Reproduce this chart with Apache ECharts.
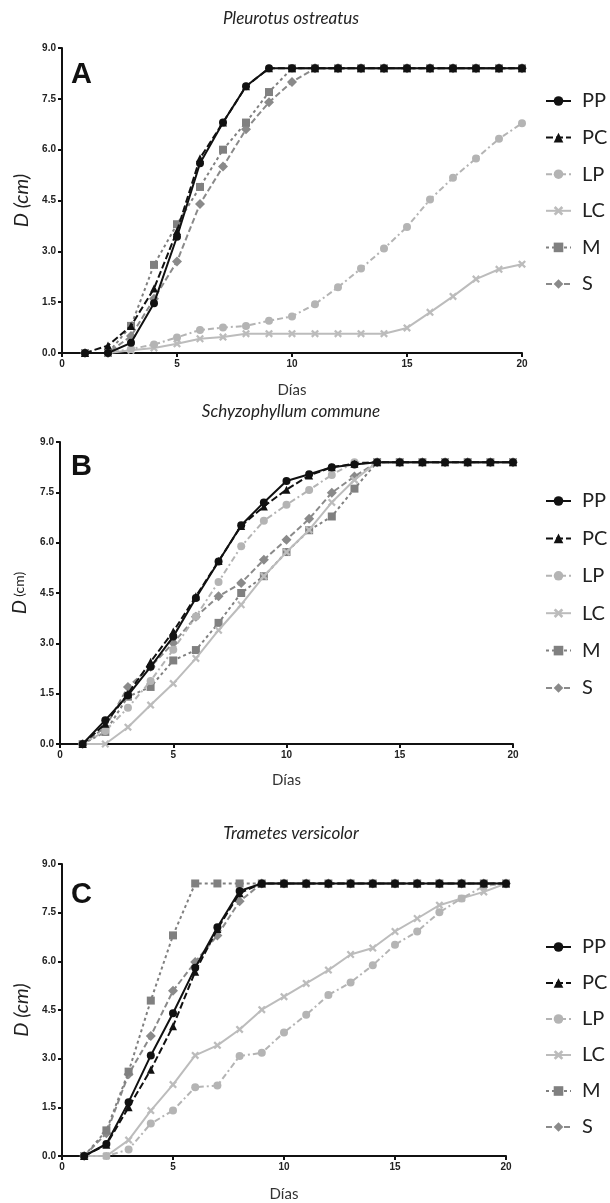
<!DOCTYPE html>
<html>
<head>
<meta charset="utf-8">
<script src="https://cdn.jsdelivr.net/npm/echarts@6/dist/echarts.min.js"></script>
<style>
html,body{margin:0;padding:0;background:#fff;}
#chart{width:610px;height:1203px;}
</style>
</head>
<body>
<div id="chart"></div>
<script>
// ---- data ----
const days = [1,2,3,4,5,6,7,8,9,10,11,12,13,14,15,16,17,18,19,20];
const seriesNames = ['PP','PC','LP','LC','M','S'];
const panelTitles = ['Pleurotus ostreatus','Schyzophyllum commune','Trametes versicolor'];
const panelLetters = ['A','B','C'];
const xTicks = [0,5,10,15,20];
const yTicks = [0,1.5,3.0,4.5,6.0,7.5,9.0];

// Panel A – Pleurotus ostreatus
const A_PP = [0,0,0.3,1.47,3.43,5.6,6.8,7.87,8.4,8.4,8.4,8.4,8.4,8.4,8.4,8.4,8.4,8.4,8.4,8.4];
const A_PC = [0,0.22,0.8,1.9,3.6,5.75,6.8,7.87,8.4,8.4,8.4,8.4,8.4,8.4,8.4,8.4,8.4,8.4,8.4,8.4];
const A_LP = [0,0,0.12,0.25,0.46,0.68,0.75,0.8,0.95,1.08,1.44,1.94,2.49,3.08,3.72,4.53,5.17,5.74,6.32,6.78];
const A_LC = [0,0,0.08,0.15,0.27,0.42,0.47,0.57,0.57,0.57,0.57,0.57,0.57,0.57,0.74,1.2,1.67,2.18,2.47,2.62];
const A_M  = [0,0,0.8,2.6,3.8,4.9,6.0,6.8,7.7,8.4,8.4,8.4,8.4,8.4,8.4,8.4,8.4,8.4,8.4,8.4];
const A_S  = [0,0,0.5,1.6,2.7,4.4,5.5,6.6,7.4,8.0,8.4,8.4,8.4,8.4,8.4,8.4,8.4,8.4,8.4,8.4];

// Panel B – Schyzophyllum commune
const B_PP = [0,0.71,1.45,2.3,3.2,4.35,5.44,6.52,7.2,7.84,8.04,8.25,8.33,8.4,8.4,8.4,8.4,8.4,8.4,8.4];
const B_PC = [0,0.6,1.5,2.45,3.35,4.4,5.45,6.5,7.08,7.58,8.0,8.25,8.35,8.4,8.4,8.4,8.4,8.4,8.4,8.4];
const B_LP = [0,0.39,1.08,1.88,2.81,3.8,4.83,5.89,6.65,7.13,7.57,8.02,8.4,8.4,8.4,8.4,8.4,8.4,8.4,8.4];
const B_LC = [0,0,0.5,1.16,1.8,2.55,3.39,4.15,5.0,5.72,6.38,7.2,7.87,8.4,8.4,8.4,8.4,8.4,8.4,8.4];
const B_M  = [0,0.36,1.41,1.7,2.49,2.8,3.61,4.5,5.0,5.72,6.37,6.78,7.61,8.4,8.4,8.4,8.4,8.4,8.4,8.4];
const B_S  = [0,0.5,1.7,2.3,3.01,3.79,4.4,4.8,5.49,6.09,6.71,7.49,7.97,8.4,8.4,8.4,8.4,8.4,8.4,8.4];

// Panel C – Trametes versicolor
const C_PP = [0,0.37,1.66,3.1,4.4,5.8,7.05,8.17,8.4,8.4,8.4,8.4,8.4,8.4,8.4,8.4,8.4,8.4,8.4,8.4];
const C_PC = [0,0.35,1.5,2.66,4.0,5.68,7.0,8.1,8.4,8.4,8.4,8.4,8.4,8.4,8.4,8.4,8.4,8.4,8.4,8.4];
const C_LP = [0,0,0.2,1.0,1.4,2.12,2.17,3.08,3.18,3.81,4.35,4.96,5.35,5.88,6.51,6.92,7.51,7.94,8.32,8.4];
const C_LC = [0,0,0.49,1.4,2.2,3.1,3.41,3.9,4.51,4.91,5.32,5.73,6.21,6.41,6.92,7.32,7.73,7.94,8.14,8.4];
const C_M  = [0,0.79,2.6,4.79,6.8,8.4,8.4,8.4,8.4,8.4,8.4,8.4,8.4,8.4,8.4,8.4,8.4,8.4,8.4,8.4];
const C_S  = [0,0.7,2.52,3.7,5.09,5.98,6.8,7.85,8.4,8.4,8.4,8.4,8.4,8.4,8.4,8.4,8.4,8.4,8.4,8.4];

const panelData = [
  [A_PP,A_PC,A_LP,A_LC,A_M,A_S],
  [B_PP,B_PC,B_LP,B_LC,B_M,B_S],
  [C_PP,C_PC,C_LP,C_LC,C_M,C_S]
];

// ---- styles ----
const crossPath = 'path://M0,2 L2,0 L5,3 L8,0 L10,2 L7,5 L10,8 L8,10 L5,7 L2,10 L0,8 L3,5 Z';
const styles = {
  PP: {color:'#111111', type:'solid', symbol:'circle', size:8, width:2},
  PC: {color:'#111111', type:[7,3], symbol:'triangle', size:8, width:2},
  LP: {color:'#b4b4b4', type:[6,3,2,3], symbol:'circle', size:8, width:2},
  LC: {color:'#bcbcbc', type:'solid', symbol:crossPath, size:8, width:2},
  M:  {color:'#808080', type:[3,3], symbol:'rect', size:8, width:2},
  S:  {color:'#8a8a8a', type:[6,3], symbol:'diamond', size:10, width:2}
};

const grids = [
  {left:62, top:48, width:460, height:305},
  {left:60, top:442, width:453, height:302},
  {left:62, top:864, width:444, height:295}
];
const legendTops = [91, 491, 937];
const legendGaps = [16.6, 17.4, 16];
const titleTops = [10, 403, 825];
const letterTops = [60, 452, 880];
const xNameGaps = [30, 29, 31];
const yNames = [
  '{d|D (cm)}',
  '{d|D} {s|(cm)}',
  '{d|D (cm)}'
];

const option = {
  animation:false,
  backgroundColor:'#ffffff',
  title: [],
  legend: [],
  grid: grids,
  xAxis: [],
  yAxis: [],
  series: []
};

for (let p=0;p<3;p++){
  option.title.push({
    text: panelTitles[p], left: 291, top: titleTops[p], textAlign:'center', padding:0,
    textStyle:{fontFamily:'Lato', fontStyle:'italic', fontWeight:'normal', fontSize:17, color:'#222'}
  });
  option.title.push({
    text: panelLetters[p], left: 71, top: letterTops[p], padding:0,
    textStyle:{fontFamily:'Liberation Sans', fontWeight:'bold', fontSize:29, color:'#111'}
  });
  option.legend.push({
    data: seriesNames, orient:'vertical', left:545, top:legendTops[p], padding:0,
    itemWidth:25, itemHeight:12, itemGap:legendGaps[p],
    textStyle:{fontFamily:'Lato', fontSize:20, color:'#222', lineHeight:20, padding:[0,0,0,6]},
    selectedMode:false
  });
  option.xAxis.push({
    type:'value', gridIndex:p, min:0, max:20, interval:5,
    name:'Días', nameLocation:'middle', nameGap:xNameGaps[p],
    nameTextStyle:{fontFamily:'Lato', fontSize:15, color:'#333'},
    axisLine:{show:true, onZero:false, lineStyle:{color:'#111', width:2}},
    axisTick:{show:true, length:4, lineStyle:{color:'#111', width:2}},
    axisLabel:{fontFamily:'Liberation Sans', fontWeight:'bold', fontSize:10, color:'#222', margin:6},
    splitLine:{show:false}
  });
  option.yAxis.push({
    type:'value', gridIndex:p, min:0, max:9, interval:1.5,
    name: yNames[p], nameLocation:'middle', nameGap:30,
    nameTextStyle:{rich:{
      d:{fontFamily:'Lato', fontStyle:'italic', fontSize:20, color:'#222'},
      s:{fontFamily:'Lato', fontStyle:'normal', fontSize:14, color:'#222'}
    }},
    axisLine:{show:true, onZero:false, lineStyle:{color:'#111', width:2}},
    axisTick:{show:true, length:4, lineStyle:{color:'#111', width:2}},
    axisLabel:{fontFamily:'Liberation Sans', fontWeight:'bold', fontSize:10, color:'#222', margin:6,
      formatter: v => v.toFixed(1)},
    splitLine:{show:false}
  });
  const order = [5,4,3,2,1,0];
  for (const i of order){
    const name = seriesNames[i];
    const st = styles[name];
    option.series.push({
      name: name, type:'line', xAxisIndex:p, yAxisIndex:p,
      data: days.map((d,k)=>[d, panelData[p][i][k]]),
      symbol: st.symbol, symbolSize: st.size, showSymbol:true,
      lineStyle:{color:st.color, type:st.type, width:st.width},
      itemStyle:{color:st.color, borderWidth:0},
      z: 2 + (5-i)
    });
  }
}

const chart = echarts.init(document.getElementById('chart'), null, {renderer:'canvas'});
chart.setOption(option);
</script>
</body>
</html>
